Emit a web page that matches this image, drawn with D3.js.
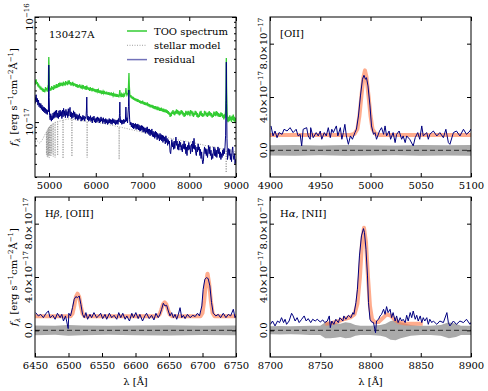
<!DOCTYPE html>
<html>
<head>
<meta charset="utf-8">
<script src="https://cdn.jsdelivr.net/npm/d3@7"></script>
<style>
  body { margin: 0; background: #fff; }
  svg text { font-family: "DejaVu Serif", serif; fill: #000; }
</style>
</head>
<body>
<div id="chart"></div>
<script>
// flux values are in units of 1e-17 erg/s/cm2/A

// --- top left: full spectrum ---
var tooSpectrum = [[4700,2.25],[4712,2.45],[4725,2.55],[4737,2.30],[4750,2.40],[4762,2.18],[4775,2.32],[4787,2.12],
  [4800,2.22],[4812,2.05],[4825,2.18],[4837,2.02],[4850,2.12],[4862,1.96],[4875,2.08],[4887,1.94],[4900,2.05],
  [4912,1.92],[4925,2.15],[4937,2.00],[4950,2.10],[4962,1.95],[4975,2.15],[4985,2.10],[4995,4.16],[5002,3.00],
  [5008,2.15],[5020,1.98],[5032,2.12],[5045,2.00],[5057,2.20],[5070,2.05],[5082,2.15],[5095,2.02],[5107,2.25],
  [5120,2.08],[5132,2.22],[5145,2.10],[5157,2.30],[5170,2.12],[5182,2.28],[5195,2.15],[5207,2.35],[5220,2.18],
  [5232,2.30],[5245,2.20],[5257,2.38],[5270,2.22],[5282,2.36],[5295,2.20],[5307,2.42],[5320,2.25],[5332,2.38],
  [5345,2.22],[5357,2.45],[5370,2.28],[5382,2.40],[5395,2.25],[5407,2.48],[5420,2.30],[5432,2.50],[5445,2.28],
  [5457,2.40],[5470,2.22],[5482,2.38],[5495,2.25],[5507,2.42],[5520,2.20],[5532,2.35],[5545,2.22],[5557,2.32],
  [5570,2.18],[5582,2.30],[5595,2.15],[5607,2.28],[5620,2.12],[5632,2.25],[5645,2.15],[5657,2.28],[5670,2.10],
  [5682,2.22],[5695,2.08],[5707,2.20],[5720,2.12],[5732,2.25],[5745,2.08],[5757,2.18],[5770,2.05],[5782,2.20],
  [5795,2.02],[5808,2.22],[5820,2.05],[5832,2.15],[5845,2.02],[5857,2.12],[5870,1.98],[5882,2.15],[5895,2.00],
  [5907,2.10],[5920,1.96],[5932,2.12],[5945,1.98],[5957,2.08],[5970,1.95],[5982,2.06],[5995,1.93],[6007,2.05],
  [6020,1.92],[6032,2.06],[6045,1.95],[6057,2.02],[6070,1.90],[6082,2.00],[6095,1.88],[6107,2.00],[6120,1.90],
  [6132,1.98],[6145,1.86],[6157,1.96],[6170,1.88],[6182,1.98],[6195,1.85],[6207,1.94],[6220,1.84],[6232,1.95],
  [6245,1.83],[6257,1.92],[6270,1.82],[6282,1.93],[6295,1.80],[6307,1.90],[6320,1.80],[6332,1.92],[6345,1.78],
  [6357,1.88],[6370,1.78],[6382,1.86],[6395,1.76],[6407,1.86],[6420,1.75],[6432,1.85],[6445,1.74],[6457,1.84],
  [6470,1.74],[6482,1.82],[6495,1.72],[6505,1.85],[6515,2.02],[6525,1.80],[6537,1.76],[6550,1.84],[6562,1.74],
  [6575,1.82],[6587,1.76],[6600,1.84],[6612,1.75],[6625,1.86],[6637,1.90],[6645,2.11],[6655,1.88],[6667,1.80],
  [6680,1.86],[6692,1.90],[6700,2.20],[6710,2.93],[6718,2.20],[6728,1.85],[6740,1.72],[6752,1.80],[6765,1.68],
  [6777,1.76],[6790,1.65],[6802,1.74],[6815,1.63],[6827,1.70],[6840,1.60],[6852,1.68],[6865,1.58],[6877,1.66],
  [6890,1.56],[6902,1.65],[6915,1.55],[6927,1.62],[6940,1.52],[6952,1.60],[6965,1.50],[6977,1.58],[6990,1.50],
  [7002,1.60],[7015,1.48],[7027,1.56],[7040,1.46],[7052,1.55],[7065,1.45],[7077,1.52],[7090,1.44],[7102,1.54],
  [7115,1.42],[7127,1.50],[7140,1.40],[7152,1.48],[7165,1.38],[7177,1.46],[7190,1.38],[7202,1.46],[7215,1.36],
  [7227,1.44],[7240,1.34],[7252,1.42],[7265,1.33],[7277,1.42],[7290,1.32],[7302,1.40],[7315,1.30],[7327,1.40],
  [7340,1.30],[7352,1.38],[7365,1.28],[7377,1.36],[7390,1.28],[7402,1.37],[7415,1.27],[7427,1.34],[7440,1.25],
  [7452,1.34],[7465,1.24],[7477,1.32],[7490,1.24],[7502,1.32],[7515,1.22],[7527,1.30],[7540,1.20],[7552,1.27],
  [7565,1.18],[7577,1.24],[7590,1.12],[7602,1.18],[7615,1.14],[7627,1.26],[7640,1.20],[7652,1.30],[7665,1.18],
  [7677,1.26],[7690,1.16],[7702,1.28],[7715,1.20],[7727,1.32],[7740,1.20],[7752,1.30],[7765,1.18],[7777,1.27],
  [7790,1.16],[7802,1.26],[7815,1.18],[7827,1.30],[7840,1.20],[7852,1.28],[7865,1.16],[7877,1.24],[7890,1.12],
  [7902,1.22],[7915,1.14],[7927,1.28],[7940,1.18],[7952,1.26],[7965,1.16],[7977,1.28],[7990,1.18],[8002,1.26],
  [8015,1.14],[8027,1.30],[8040,1.20],[8052,1.28],[8065,1.15],[8077,1.26],[8090,1.12],[8102,1.22],[8115,1.16],
  [8127,1.28],[8140,1.18],[8152,1.26],[8165,1.12],[8177,1.22],[8190,1.10],[8202,1.18],[8215,1.12],[8227,1.26],
  [8240,1.16],[8252,1.28],[8265,1.14],[8277,1.22],[8290,1.12],[8302,1.20],[8315,1.14],[8327,1.28],[8340,1.18],
  [8352,1.26],[8365,1.14],[8377,1.22],[8390,1.12],[8402,1.24],[8415,1.15],[8427,1.27],[8440,1.16],[8452,1.24],
  [8465,1.13],[8477,1.22],[8490,1.10],[8502,1.18],[8515,1.12],[8527,1.26],[8540,1.15],[8552,1.24],[8565,1.14],
  [8577,1.27],[8590,1.16],[8602,1.25],[8615,1.13],[8627,1.22],[8640,1.12],[8652,1.20],[8665,1.12],[8677,1.24],
  [8690,1.14],[8702,1.22],[8715,1.10],[8727,1.18],[8740,1.06],[8752,1.14],[8765,1.10],[8778,1.30],[8786,1.90],
  [8793,4.07],[8800,1.90],[8808,1.25],[8818,1.05],[8830,1.00],[8842,1.12],[8855,1.02],[8867,1.16],[8880,1.04],
  [8892,1.12],[8905,1.00],[8917,1.15],[8930,1.05],[8942,1.18],[8955,1.02],[8967,1.12],[8980,0.98],[8992,1.10],
  [9000,1.04]];

var stellarModel = [[4700,0.65],[4750,0.66],[4800,0.63],[4850,0.67],[4900,0.74],[4930,0.79],
  [4944,0.80],[4945,0.49],[4946,0.80],[4959,0.83],[4960,0.47],[4961,0.83],[4974,0.85],[4975,0.46],[4976,0.85],
  [4989,0.88],[4990,0.48],[4991,0.88],[5004,0.90],[5005,0.46],[5006,0.90],[5019,0.92],[5020,0.49],[5021,0.92],
  [5039,0.93],[5040,0.47],[5041,0.93],[5059,0.95],[5060,0.50],[5061,0.95],[5089,0.97],[5090,0.47],[5091,0.97],
  [5129,0.99],[5130,0.46],[5131,0.99],[5184,1.01],[5185,0.48],[5186,1.01],[5299,1.04],[5300,0.45],[5301,1.04],
  [5400,1.07],[5489,1.07],[5490,0.47],[5491,1.07],[5600,1.04],[5814,1.02],[5815,0.46],[5816,1.02],
  [6000,1.00],[6200,0.96],[6400,0.92],[6499,0.90],[6500,0.44],[6501,0.90],[6600,0.88],[6800,0.84],
  [7000,0.80],[7200,0.77],[7400,0.74],[7600,0.70],[7800,0.67],[8000,0.65],[8200,0.62],[8400,0.59],
  [8600,0.57],[8789,0.54],[8790,0.33],[8791,0.54],[9000,0.52]];

var residual = [[4705,1.50],[4715,1.75],[4725,1.82],[4737,1.55],[4750,1.68],[4762,1.45],[4775,1.62],[4787,1.40],
  [4800,1.52],[4812,1.36],[4825,1.50],[4837,1.32],[4850,1.45],[4862,1.28],[4875,1.40],[4887,1.25],[4900,1.38],
  [4912,1.22],[4925,1.35],[4937,1.20],[4950,1.32],[4962,1.18],[4975,1.30],[4987,1.25],[4995,3.49],[5003,1.70],
  [5012,1.15],[5025,1.05],[5037,1.20],[5050,1.02],[5062,1.15],[5075,1.05],[5087,1.22],[5100,1.08],[5112,1.25],
  [5125,1.10],[5137,1.28],[5150,1.12],[5162,1.30],[5175,1.10],[5187,1.22],[5200,1.08],[5212,1.28],[5225,1.12],
  [5237,1.30],[5250,1.14],[5262,1.26],[5275,1.08],[5287,1.30],[5300,1.12],[5312,1.35],[5325,1.15],[5337,1.28],
  [5350,1.10],[5362,1.32],[5375,1.16],[5387,1.26],[5400,1.10],[5412,1.34],[5425,1.14],[5437,1.28],[5450,1.38],
  [5462,1.12],[5475,1.25],[5487,1.08],[5500,1.22],[5512,1.10],[5525,1.28],[5537,1.12],[5550,1.24],[5562,1.06],
  [5575,1.20],[5587,1.08],[5600,1.18],[5612,1.04],[5625,1.16],[5637,1.06],[5650,1.20],[5662,1.08],[5675,1.14],
  [5687,1.02],[5700,1.12],[5712,1.04],[5725,1.16],[5737,1.06],[5750,1.14],[5762,1.02],[5775,1.12],[5790,1.08],
  [5800,1.30],[5808,1.73],[5815,1.20],[5825,1.05],[5837,1.14],[5850,1.02],[5862,1.12],[5875,1.04],[5887,1.15],
  [5900,1.02],[5912,1.10],[5925,0.98],[5937,1.12],[5950,1.04],[5962,1.14],[5975,1.00],[5987,1.08],[6000,0.98],
  [6012,1.10],[6025,1.00],[6037,1.12],[6050,1.02],[6062,1.10],[6075,0.98],[6087,1.08],[6100,1.00],[6112,1.12],
  [6125,1.02],[6137,1.08],[6150,0.97],[6162,1.10],[6175,1.00],[6187,1.06],[6200,0.96],[6212,1.08],[6225,0.98],
  [6237,1.06],[6250,0.95],[6262,1.05],[6275,0.97],[6287,1.08],[6300,0.98],[6312,1.06],[6325,0.96],[6337,1.05],
  [6350,0.95],[6362,1.08],[6375,0.98],[6387,1.06],[6400,0.97],[6412,1.05],[6425,0.94],[6437,1.04],[6450,0.96],
  [6462,1.05],[6475,0.95],[6487,1.08],[6500,1.00],[6508,1.20],[6515,1.55],[6522,1.15],[6532,0.98],[6545,1.05],
  [6557,0.95],[6570,1.04],[6582,0.96],[6595,1.06],[6607,0.97],[6620,1.05],[6632,1.00],[6645,1.39],[6655,1.02],
  [6667,1.10],[6680,0.98],[6690,1.22],[6700,1.40],[6708,2.02],[6716,1.30],[6725,1.05],[6737,0.94],[6750,1.00],
  [6762,0.90],[6775,0.98],[6787,0.88],[6800,0.98],[6812,0.86],[6825,0.96],[6837,0.88],[6850,0.97],[6862,0.85],
  [6875,0.95],[6887,0.86],[6900,0.96],[6912,0.84],[6925,0.94],[6937,0.83],[6950,0.92],[6962,0.82],[6975,0.93],
  [6987,0.84],[7000,0.92],[7012,0.80],[7025,0.90],[7037,0.81],[7050,0.88],[7062,0.78],[7075,0.88],[7087,0.80],
  [7100,0.90],[7112,0.78],[7125,0.86],[7137,0.76],[7150,0.86],[7162,0.74],[7175,0.84],[7187,0.76],[7200,0.86],
  [7212,0.73],[7225,0.82],[7237,0.72],[7250,0.80],[7262,0.70],[7275,0.82],[7287,0.72],[7300,0.80],[7312,0.68],
  [7325,0.78],[7337,0.70],[7350,0.76],[7362,0.66],[7375,0.78],[7387,0.68],[7400,0.76],[7412,0.66],[7425,0.75],
  [7437,0.64],[7450,0.74],[7462,0.66],[7475,0.72],[7487,0.62],[7500,0.74],[7512,0.64],[7525,0.70],[7537,0.60],
  [7550,0.68],[7562,0.62],[7575,0.66],[7590,0.52],[7602,0.50],[7615,0.58],[7627,0.68],[7640,0.58],[7652,0.64],
  [7665,0.55],[7677,0.66],[7690,0.56],[7702,0.62],[7715,0.72],[7727,0.60],[7740,0.66],[7752,0.55],[7765,0.62],
  [7777,0.54],[7790,0.66],[7802,0.58],[7815,0.64],[7827,0.54],[7840,0.60],[7852,0.52],[7865,0.62],[7877,0.56],
  [7890,0.66],[7902,0.55],[7915,0.62],[7927,0.50],[7940,0.58],[7952,0.48],[7965,0.60],[7977,0.54],[7990,0.64],
  [8002,0.55],[8015,0.60],[8027,0.50],[8040,0.58],[8052,0.62],[8065,0.52],[8077,0.66],[8090,0.56],[8102,0.70],
  [8115,0.55],[8127,0.60],[8140,0.50],[8152,0.48],[8165,0.58],[8177,0.52],[8190,0.62],[8202,0.54],[8215,0.58],
  [8227,0.48],[8240,0.55],[8252,0.45],[8265,0.52],[8277,0.44],[8290,0.40],[8302,0.42],[8315,0.52],[8327,0.58],
  [8340,0.50],[8352,0.56],[8365,0.48],[8377,0.55],[8390,0.46],[8402,0.52],[8415,0.60],[8427,0.50],[8440,0.58],
  [8452,0.48],[8465,0.54],[8477,0.44],[8490,0.50],[8502,0.45],[8515,0.52],[8527,0.58],[8540,0.48],[8552,0.56],
  [8565,0.47],[8577,0.54],[8590,0.46],[8602,0.52],[8615,0.58],[8627,0.50],[8640,0.56],[8652,0.46],[8665,0.52],
  [8677,0.44],[8690,0.50],[8702,0.46],[8715,0.54],[8727,0.48],[8740,0.56],[8752,0.50],[8765,0.58],[8778,0.75],
  [8786,1.60],[8793,3.72],[8800,1.50],[8807,0.70],[8818,0.44],[8830,0.48],[8842,0.56],[8855,0.48],[8867,0.55],
  [8880,0.44],[8892,0.50],[8905,0.42],[8917,0.54],[8930,0.58],[8942,0.48],[8955,0.44],[8967,0.50],[8980,0.40],
  [8992,0.44],[9000,0.41]];

// --- top right: [OII] ---
var oiiData = [[4901,1.83],[4903,1.08],[4905,1.45],[4907,0.95],[4909,1.33],[4912,1.2],[4914,1.58],[4917,1.45],
  [4920,1.7],[4923,1.33],[4926,1.58],[4928,1.08],[4930,1.2],[4931.5,0.33],[4933,1.58],[4936.5,1.7],[4938,1.08],
  [4940,0.83],[4940.5,1.7],[4943,0.95],[4946,1.33],[4948,1.08],[4950,1.45],[4951.5,0.83],[4954,1.33],[4956,1.08],
  [4958,1.7],[4960,0.95],[4961.5,1.58],[4963,1.33],[4966,1.83],[4967.5,1.08],[4970,1.7],[4971.5,0.83],[4973,1.33],
  [4974.5,1.95],[4976,1.08],[4978,0.45],[4980,1.08],[4982,0.83],[4984.5,1.33],[4986,1.58],[4988,2.58],[4990,4.08],
  [4992,5.33],[4993.5,5.63],[4995,5.33],[4996,5.45],[4997.5,4.83],[4999.5,3.33],[5001,1.83],[5003,1.2],
  [5004.5,1.33],[5006,0.83],[5009,1.45],[5011,1.7],[5013,1.2],[5014.5,1.83],[5016,1.08],[5018.5,1.45],[5020,0.83],
  [5022.5,1.33],[5024.5,0.58],[5026,1.2],[5028.5,1.45],[5031,0.83],[5032.5,1.08],[5034.5,0.58],[5036,1.08],
  [5039,0.83],[5042.5,0.33],[5044.5,0.95],[5047,1.33],[5049,0.83],[5051,1.83],[5052.5,1.08],[5056,1.33],
  [5057.5,0.83],[5059,1.2],[5062.5,1.45],[5066,1.08],[5069,1.33],[5072.5,0.95],[5075,1.58],[5077.5,0.58],
  [5079,0.45],[5082.5,1.33],[5085.5,1.45],[5089,1.08],[5092.5,1.58],[5095.5,1.2],[5099,1.45],[5100,1.6]];
var oiiFit = [[4900,1.15],[4980,1.15],[4984,1.22],[4987,1.6],[4989,2.6],[4991,4.1],[4993,5.5],[4994.5,6.0],
  [4996,5.5],[4998,4.1],[5000,2.6],[5002,1.6],[5005,1.22],[5009,1.15],[5100,1.15]];
var oiiErr = [[4900,0.38],[4925,0.4],[4950,0.36],[4975,0.4],[5000,0.38],[5025,0.36],[5050,0.4],[5075,0.38],[5100,0.4]];

// --- bottom left: Hbeta, [OIII] ---
var hbData = [[6451,1.33],[6455,1.08],[6458.5,1.2],[6462.5,0.95],[6466.5,1.28],[6470,1.45],[6472.5,0.95],
  [6476.5,1.13],[6480,0.83],[6483.5,1.28],[6487.5,0.95],[6490,1.2],[6492.5,0.7],[6495.5,1.08],[6497.5,0.63],
  [6499.5,0.13],[6500.5,1.28],[6503,1.08],[6506,1.7],[6508.5,2.33],[6511,2.53],[6513.5,2.45],[6516,2.58],
  [6518.5,1.95],[6521,1.2],[6523.5,0.95],[6526,1.33],[6528.5,0.83],[6532,1.2],[6534.5,0.95],[6538,1.33],
  [6542,0.95],[6545,1.08],[6548,1.28],[6551,0.88],[6554.5,1.2],[6557,0.83],[6561,1.28],[6564.5,0.95],
  [6568,1.13],[6572,0.83],[6575,1.33],[6578,0.95],[6581,1.28],[6584.5,0.83],[6587,1.08],[6591,0.7],
  [6594.5,1.28],[6597,0.95],[6600.5,1.33],[6604,0.88],[6606.5,1.2],[6610.5,0.7],[6614,1.08],[6616.5,1.28],
  [6620.5,0.88],[6624,1.13],[6627.5,0.78],[6630.5,1.28],[6634,0.95],[6636.5,1.2],[6639,1.58],[6641.5,2.03],
  [6644,1.83],[6646.5,1.88],[6649,1.45],[6651.5,1.08],[6654,1.33],[6656.5,0.95],[6659,1.2],[6661.5,0.83],
  [6664,1.2],[6666.5,1.7],[6669,0.95],[6671.5,1.13],[6674,0.88],[6677.5,1.2],[6681.5,0.95],[6685.5,1.13],
  [6689,1.03],[6692.5,1.28],[6695.5,1.08],[6699,1.83],[6701,3.08],[6703.5,3.83],[6706,3.95],[6708.5,3.88],
  [6711,3.33],[6713.5,2.08],[6716,1.28],[6720,1.08],[6723.5,1.2],[6727,0.95],[6731,1.28],[6735,0.95],
  [6738.5,1.2],[6742,1.08],[6746,1.58],[6748.5,0.95],[6750,1.1]];
var hbFit = [[6450,1.05],[6503,1.05],[6506,1.25],[6508.5,1.8],[6511,2.5],[6513.5,2.75],[6516,2.5],[6518.5,1.8],
  [6521,1.25],[6524,1.05],[6632,1.05],[6636,1.2],[6638.5,1.55],[6641,1.95],[6643.5,2.1],[6646,1.95],[6648.5,1.55],
  [6651,1.2],[6655,1.05],[6697,1.05],[6700,1.3],[6702.5,2.2],[6705,3.5],[6707.5,4.25],[6710,3.5],[6712.5,2.2],
  [6715,1.3],[6718,1.05],[6750,1.05]];
var hbErr = [[6450,0.36],[6480,0.34],[6500,0.4],[6520,0.36],[6560,0.34],[6600,0.36],[6650,0.38],[6700,0.35],[6750,0.36]];

// --- bottom right: Halpha, [NII] ---
var haData = [[8700.5,0.45],[8702.5,0.7],[8705,0.33],[8707.5,0.7],[8709.5,0.58],[8711.5,0.95],[8713.5,0.58],
  [8715,0.83],[8716.5,0.45],[8719,0.7],[8721.5,1.28],[8723,1.08],[8725,0.7],[8727,0.95],[8729,0.58],[8731.5,0.83],
  [8734,1.08],[8736,0.7],[8738,0.88],[8740.5,0.58],[8742.5,0.83],[8745,0.7],[8747,0.83],[8750,0.63],[8752.5,0.78],
  [8754.5,0.58],[8757,0.7],[8759,1.08],[8760,0.2],[8761.5,0.7],[8763.5,0.45],[8765.5,0.83],[8768,0.58],
  [8769.5,0.95],[8772.5,0.7],[8773.5,1.08],[8775.5,0.83],[8778,1.13],[8780.5,0.95],[8782.5,1.33],[8783.5,1.2],
  [8785.5,2.08],[8787,3.08],[8789,5.58],[8791,7.08],[8793,7.63],[8794,7.33],[8795.5,6.08],[8797,4.08],[8798,2.08],
  [8799.5,0.83],[8801,0.63],[8803,0.58],[8805,-0.18],[8806,0.7],[8808,0.83],[8809.5,1.08],[8811,1.2],
  [8813,1.58],[8814.5,1.2],[8816,1.78],[8817.5,1.33],[8819.5,1.58],[8821,0.95],[8822.5,1.33],[8824.5,0.7],
  [8826,1.08],[8827.5,0.58],[8829.5,0.95],[8831,0.7],[8832.5,0.83],[8834.5,0.58],[8836,1.13],[8837.5,0.7],
  [8839.5,1.33],[8841,0.95],[8842.5,1.45],[8844.5,0.83],[8846,1.13],[8847.5,0.7],[8849.5,1.08],[8851,0.58],
  [8852.5,0.95],[8854,0.7],[8856,0.95],[8857.5,0.45],[8859,0.83],[8861,0.58],[8862.5,0.7],[8866,0.45],
  [8869,0.7],[8872.5,0.58],[8876,1.33],[8877.5,0.58],[8879,0.33],[8882.5,0.7],[8885.5,0.45],[8889,0.7],
  [8892.5,0.58],[8895.5,0.83],[8899,0.45],[8900,0.6]];
var haFit = [[8755,0.5],[8762,0.55],[8768,0.68],[8774,0.85],[8780,0.98],[8784,1.2],[8787,2.0],[8789.5,4.0],
  [8791.5,6.5],[8793.5,7.7],[8795.5,6.6],[8797.5,4.0],[8799.5,1.8],[8801.5,0.85],[8804,0.6],[8808,0.62],
  [8812,0.9],[8816,1.2],[8820,1.1],[8824,0.8],[8828,0.6],[8835,0.52],[8852,0.5]];
var haErr = [[8700,0.3],[8710,0.32],[8720,0.3],[8730,0.32],[8740,0.35],[8750,0.35],[8755,0.6],[8760,0.6],
  [8765,0.55],[8770,0.5],[8775,0.6],[8780,0.55],[8785,0.4],[8790,0.35],[8800,0.35],[8810,0.4],[8815,0.5],
  [8820,0.7],[8825,0.75],[8830,0.6],[8840,0.4],[8850,0.35],[8860,0.35],[8870,0.4],[8878,0.6],[8885,0.5],
  [8890,0.35],[8900,0.35]];

// tick values
var fullTicks = [5000, 6000, 7000, 8000, 9000];
var oiiTicks = [4900, 4950, 5000, 5050, 5100];
var hbTicks = [6450, 6500, 6550, 6600, 6650, 6700, 6750];
var haTicks = [8700, 8750, 8800, 8850, 8900];
var linTicks = [0, 4, 8];
var logMajor = [1, 10];
var logMinor = [0.3, 0.4, 0.5, 0.6, 0.7, 0.8, 0.9, 2, 3, 4, 5, 6, 7, 8, 9];

var legendLabels = ["TOO spectrum", "stellar model", "residual"];

// colours
var green = "#33cc33", navy = "#000080", grey = "#888888", coral = "#ff7f50";

var svg = d3.select("#chart").append("svg")
  .attr("width", 488)
  .attr("height", 391);

var boxes = {
  tl: {x: 35, y: 17, w: 201, h: 160},
  tr: {x: 270, y: 17, w: 201, h: 160},
  bl: {x: 35, y: 197, w: 201, h: 160},
  br: {x: 270, y: 197, w: 201, h: 160}
};

function makePanel(box, id) {
  var g = svg.append("g").attr("transform", `translate(${box.x},${box.y})`);
  svg.append("clipPath").attr("id", id)
    .append("rect").attr("width", box.w).attr("height", box.h);
  var plot = g.append("g").attr("clip-path", `url(#${id})`);
  return {g: g, plot: plot};
}

// ticks pointing inward on all four sides
function inwardAxes(g, box, x, y, xTicks, yTicks, xFont) {
  var bottom = g.append("g").attr("transform", `translate(0,${box.h})`)
    .call(d3.axisBottom(x).tickValues(xTicks).tickSize(-4).tickPadding(5).tickFormat(d3.format("d")));
  bottom.selectAll("text").attr("font-family", xFont).attr("font-size", 10);
  var top = g.append("g")
    .call(d3.axisTop(x).tickValues(xTicks).tickSize(-4).tickFormat(""));
  var left = g.append("g")
    .call(d3.axisLeft(y).tickValues(yTicks).tickSize(-4).tickFormat(""));
  var right = g.append("g").attr("transform", `translate(${box.w},0)`)
    .call(d3.axisRight(y).tickValues(yTicks).tickSize(-4).tickFormat(""));
  [bottom, top, left, right].forEach(function(a) { a.select(".domain").remove(); });
}

function frame(g, box) {
  g.append("rect")
    .attr("x", 0).attr("y", 0)
    .attr("width", box.w).attr("height", box.h)
    .attr("fill", "none").attr("stroke", "#000").attr("stroke-width", 1);
}

// text with super/subscripts: parts = [text, shift(-up), size, italic]
function rich(t, parts) {
  var cur = 0;
  parts.forEach(function(p) {
    var s = p[1] || 0;
    var ts = t.append("tspan").attr("dy", s - cur).text(p[0]);
    if (p[2]) ts.attr("font-size", p[2]);
    if (p[3]) ts.attr("font-style", "italic");
    cur = s;
  });
}

function yTitle(cx, cy) {
  var t = svg.append("text")
    .attr("transform", `translate(${cx},${cy}) rotate(-90)`)
    .attr("text-anchor", "middle")
    .attr("font-size", 10);
  rich(t, [["f", 0, null, true], ["λ", 2.5, 7, true], [" [erg s", 0], ["−1", -4, 7], ["cm", 0],
    ["−2", -4, 7], ["Å", 0], ["−1", -4, 7], ["]", 0]]);
}

function sciLabels(g, y) {
  linTicks.forEach(function(v) {
    var t = g.append("text")
      .attr("transform", `translate(-3,${y(v)}) rotate(-90)`)
      .attr("text-anchor", "middle")
      .attr("font-size", 10);
    if (v === 0) t.text("0.0");
    else rich(t, [[v.toFixed(1) + "×10", 0], ["−17", -4, 7]]);
  });
}

// ---------- top left ----------
var tl = makePanel(boxes.tl, "clipTL");
var xTL = d3.scaleLinear().domain([4700, 9000]).range([0, boxes.tl.w]);
var yTL = d3.scaleLog().domain([0.3, 10]).range([boxes.tl.h, 0]);
var lineTL = d3.line().x(d => xTL(d[0])).y(d => yTL(d[1]));

tl.plot.append("path").datum(tooSpectrum).attr("d", lineTL)
  .attr("fill", "none").attr("stroke", green).attr("stroke-width", 1.3);
tl.plot.append("path").datum(stellarModel).attr("d", lineTL)
  .attr("fill", "none").attr("stroke", grey).attr("stroke-width", 0.8).attr("stroke-dasharray", "1,1.5");
tl.plot.append("path").datum(residual).attr("d", lineTL)
  .attr("fill", "none").attr("stroke", navy).attr("stroke-width", 1);

inwardAxes(tl.g, boxes.tl, xTL, yTL, fullTicks, logMajor, "DejaVu Sans");
tl.g.append("g").call(d3.axisLeft(yTL).tickValues(logMinor).tickSize(-2).tickFormat(""))
  .select(".domain").remove();
tl.g.append("g").attr("transform", `translate(${boxes.tl.w},0)`)
  .call(d3.axisRight(yTL).tickValues(logMinor).tickSize(-2).tickFormat(""))
  .select(".domain").remove();
frame(tl.g, boxes.tl);

logMajor.forEach(function(v) {
  var t = tl.g.append("text")
    .attr("transform", `translate(-2,${yTL(v)}) rotate(-90)`)
    .attr("text-anchor", "middle")
    .attr("font-size", 10);
  rich(t, [["10", 0], [v === 10 ? "−16" : "−17", -4, 7]]);
});

tl.g.append("text").attr("x", 14).attr("y", 21).attr("font-size", 10).text("130427A");

// legend
var legend = tl.g.append("g").attr("transform", "translate(92,14)");
legendLabels.forEach(function(name, i) {
  var row = legend.append("g").attr("transform", `translate(0,${i * 14.3})`);
  var ln = row.append("line").attr("x1", 0).attr("x2", 20).attr("y1", 0).attr("y2", 0);
  if (i === 0) ln.attr("stroke", green).attr("stroke-width", 1.5);
  if (i === 1) ln.attr("stroke", grey).attr("stroke-width", 0.8).attr("stroke-dasharray", "1,1.5");
  if (i === 2) ln.attr("stroke", navy).attr("stroke-width", 1.5).attr("opacity", 0.55);
  row.append("text").attr("x", 27).attr("y", 3.5).attr("font-size", 10).text(name);
});

yTitle(17, boxes.tl.y + boxes.tl.h / 2);

// ---------- line panels ----------
function linePanel(box, id, domain, ticks, data, fit, err, label) {
  var p = makePanel(box, id);
  var x = d3.scaleLinear().domain(domain).range([0, box.w]);
  var y = d3.scaleLinear().domain([-2, 10]).range([box.h, 0]);
  var line = d3.line().x(d => x(d[0])).y(d => y(d[1]));
  var band = d3.area().x(d => x(d[0])).y0(d => y(-d[1])).y1(d => y(d[1]));

  p.plot.append("path").datum(err).attr("d", band).attr("fill", "#aaaaaa");
  p.plot.append("line")
    .attr("x1", 0).attr("x2", box.w).attr("y1", y(0)).attr("y2", y(0))
    .attr("stroke", "#444").attr("stroke-width", 1.3).attr("stroke-dasharray", "5,3");
  p.plot.append("path").datum(fit).attr("d", line)
    .attr("fill", "none").attr("stroke", coral).attr("stroke-width", 4)
    .attr("stroke-opacity", 0.65).attr("stroke-linejoin", "round");
  p.plot.append("path").datum(data).attr("d", line)
    .attr("fill", "none").attr("stroke", navy).attr("stroke-width", 1);

  inwardAxes(p.g, box, x, y, ticks, linTicks, "DejaVu Serif");
  frame(p.g, box);
  sciLabels(p.g, y);

  var t = p.g.append("text").attr("x", 10).attr("y", 20).attr("font-size", 10);
  rich(t, label);
  return p;
}

linePanel(boxes.tr, "clipTR", [4900, 5100], oiiTicks, oiiData, oiiFit, oiiErr, [["[OII]", 0]]);
linePanel(boxes.bl, "clipBL", [6450, 6750], hbTicks, hbData, hbFit, hbErr,
  [["H", 0], ["β", 0, null, true], [", [OIII]", 0]]);
linePanel(boxes.br, "clipBR", [8700, 8900], haTicks, haData, haFit, haErr,
  [["H", 0], ["α", 0, null, true], [", [NII]", 0]]);

yTitle(17, boxes.bl.y + boxes.bl.h / 2);

// x titles
[boxes.bl, boxes.br].forEach(function(b) {
  svg.append("text")
    .attr("x", b.x + b.w / 2).attr("y", 385)
    .attr("text-anchor", "middle").attr("font-size", 10)
    .text("λ [Å]");
});
</script>
</body>
</html>
